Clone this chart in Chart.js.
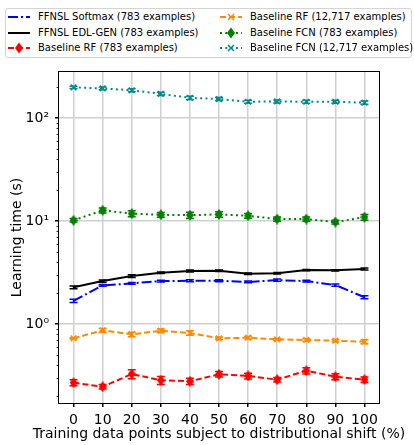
<!DOCTYPE html>
<html><head><meta charset="utf-8">
<script src="https://cdn.jsdelivr.net/npm/chart.js@4.4.1/dist/chart.umd.min.js"></script>
<style>
html,body{margin:0;padding:0;background:#fff;}
#wrap{position:relative;width:414px;height:445px;overflow:hidden;}
#c{position:absolute;left:0;top:0;}
#legend{position:absolute;left:5px;top:8px;width:405px;height:48px;border:1px solid #d4d4d4;border-radius:3px;background:#fff;font-family:'DejaVu Sans',sans-serif;font-size:10px;color:#000;}
.item{position:absolute;height:14px;line-height:14px;white-space:nowrap;}
.item svg{position:absolute;left:0;top:0;}
.item span{position:absolute;left:30px;top:0;}
#xtitle{position:absolute;left:12px;width:414px;top:425px;height:17px;line-height:17px;text-align:center;white-space:nowrap;font-family:'DejaVu Sans',sans-serif;font-size:14px;color:#000;}
</style></head>
<body>
<div id="wrap"><canvas id="c" width="414" height="445" style="width:414px;height:445px"></canvas><div id="legend"></div><div id="xtitle"></div></div>
<script>
// ---- data ----
const shiftPct = [0,10,20,30,40,50,60,70,80,90,100];
const xTicks = [0,10,20,30,40,50,60,70,80,90,100];
const yMajorTicks = [1,10,100];
const yMinorTicks = [0.2,0.3,0.4,0.5,0.6,0.7,0.8,0.9,2,3,4,5,6,7,8,9,20,30,40,50,60,70,80,90,200];

const softmax783   = [1.68,2.37,2.48,2.61,2.63,2.63,2.56,2.67,2.61,2.39,1.82];
const softmaxErr   = [0.06,0.05,0.05,0.05,0.06,0.06,0.05,0.07,0.05,0.06,0.06];
const edlGen783    = [2.27,2.61,2.92,3.15,3.27,3.29,3.08,3.11,3.34,3.32,3.42];
const edlGenErr    = [0.07,0.07,0.09,0.05,0.07,0.06,0.05,0.05,0.05,0.05,0.08];
const rf783        = [0.269,0.246,0.327,0.284,0.278,0.325,0.313,0.288,0.352,0.308,0.288];
const rf783Err     = [0.018,0.012,0.033,0.025,0.02,0.02,0.02,0.015,0.025,0.02,0.018];
const rf12717      = [0.726,0.869,0.794,0.861,0.818,0.726,0.736,0.71,0.70,0.689,0.673];
const rf12717Err   = [0.01,0.035,0.04,0.035,0.04,0.02,0.02,0.015,0.02,0.02,0.03];
const fcn783       = [10.16,12.7,11.8,11.5,11.4,11.6,11.25,10.45,10.45,9.78,10.9];
const fcn783Err    = [0.4,0.7,0.8,0.6,0.8,0.7,0.6,0.5,0.5,0.4,0.7];
const fcn12717     = [198.6,194,186,172,157,153,144,145,144,144,141];
const fcn12717Err  = [5,6,6,6,6,5,5,5,5,5,5];

const seriesNames = [
  'FFNSL Softmax (783 examples)',
  'FFNSL EDL-GEN (783 examples)',
  'Baseline RF (783 examples)',
  'Baseline RF (12,717 examples)',
  'Baseline FCN (783 examples)',
  'Baseline FCN (12,717 examples)'
];
const xTitle = 'Training data points subject to distributional shift (%)';
const yTitle = 'Learning time (s)';

// ---- styles ----
function thinDiamond(color){
  const c=document.createElement('canvas'); c.width=8; c.height=11;
  const g=c.getContext('2d'); g.fillStyle=color;
  g.beginPath(); g.moveTo(4,0); g.lineTo(8,5.5); g.lineTo(4,11); g.lineTo(0,5.5); g.closePath(); g.fill();
  return c;
}
const FONT='DejaVu Sans';
const pts = (arr)=>arr.map((v,i)=>({x:shiftPct[i],y:v}));
const styles = [
  {color:'#0000ff', dash:[10,3,2,3], point:false},
  {color:'#000000', dash:[], point:false},
  {color:'#ff0000', dash:[6,3], point:'diamond'},
  {color:'#ff8c00', dash:[6,3], point:'x'},
  {color:'#008000', dash:[2,3.3], point:'diamond'},
  {color:'#008b8b', dash:[2,3.3], point:'x'}
];
const values=[softmax783,edlGen783,rf783,rf12717,fcn783,fcn12717];
const errs=[softmaxErr,edlGenErr,rf783Err,rf12717Err,fcn783Err,fcn12717Err];

const datasets = values.map((v,k)=>{
  const s=styles[k];
  const d={label:seriesNames[k], data:pts(v), err:errs[k], borderColor:s.color, backgroundColor:s.color,
    borderWidth:2, borderDash:s.dash, tension:0, fill:false, order:k};
  if(!s.point){ d.pointRadius=0; }
  else if(s.point==='diamond'){ d.pointStyle=thinDiamond(s.color); d.pointRadius=5; }
  else { d.pointStyle='crossRot'; d.pointRadius=4; d.pointBorderWidth=1.5; }
  return d;
});

const errPlugin={id:'err',
  beforeDatasetDraw(chart,args){
    const ds=chart.data.datasets[args.index]; if(!ds.err) return;
    const ys=chart.scales.y, ctx=chart.ctx;
    ctx.save(); ctx.strokeStyle=ds.borderColor; ctx.lineWidth=1.5; ctx.setLineDash([]);
    args.meta.data.forEach((p,i)=>{
      const v=ds.data[i].y, e=ds.err[i];
      const y1=ys.getPixelForValue(v-e), y2=ys.getPixelForValue(v+e), x=p.x;
      ctx.beginPath();
      ctx.moveTo(x,y1); ctx.lineTo(x,y2);
      ctx.moveTo(x-4,y1); ctx.lineTo(x+4,y1);
      ctx.moveTo(x-4,y2); ctx.lineTo(x+4,y2);
      ctx.stroke();
    });
    ctx.restore();
  }};
const framePlugin={id:'frame',
  afterDraw(chart){
    const {ctx,chartArea:a,scales:{y}}=chart;
    ctx.save(); ctx.strokeStyle='#000'; ctx.lineWidth=1; ctx.setLineDash([]);
    ctx.strokeRect(Math.round(a.left)-0.5,Math.round(a.top)-0.5,Math.round(a.right-a.left)+1,Math.round(a.bottom-a.top)+1);
    ctx.lineWidth=0.8;
    yMinorTicks.forEach(v=>{const py=Math.round(y.getPixelForValue(v))+0.5;
      ctx.beginPath(); ctx.moveTo(a.left-2.5,py); ctx.lineTo(a.left,py); ctx.stroke();});
    ctx.restore();
  }};

const supers={0:'\u2070',1:'\u00b9',2:'\u00b2'};

new Chart(document.getElementById('c'),{
  type:'line',
  data:{datasets},
  plugins:[errPlugin,framePlugin],
  options:{
    responsive:false, animation:false,
    layout:{padding:{left:0,right:35,top:72,bottom:0}},
    plugins:{legend:{display:false},tooltip:{enabled:false}},
    scales:{
      x:{type:'linear',min:-5,max:105,
        afterBuildTicks(s){s.ticks=xTicks.map(v=>({value:v}));},
        afterFit(s){s.height=42;},
        ticks:{autoSkip:false,maxRotation:0,color:'#000',font:{family:FONT,size:14},padding:5},
        grid:{color:'#d0d0d0',lineWidth:1.5,tickColor:'#000',tickLength:4},
        border:{display:false},
        title:{display:false}
      },
      y:{type:'logarithmic',min:0.171,max:280,
        afterBuildTicks(s){s.ticks=yMajorTicks.map(v=>({value:v}));},
        afterFit(s){s.width=59;},
        ticks:{autoSkip:false,color:'#000',font:{family:FONT,size:14},padding:6,
          callback:(v)=>{const e=Math.round(Math.log10(v)); return '10'+supers[e];}},
        grid:{color:'#d0d0d0',lineWidth:1.5,tickColor:'#000',tickLength:4},
        border:{display:false},
        title:{display:true,text:yTitle,color:'#000',font:{family:FONT,size:14},padding:{top:8.5,bottom:0}}
      }
    }
  }
});

document.getElementById('xtitle').textContent=xTitle;

// ---- legend (HTML) ----
const legend=document.getElementById('legend');
const layout=[[2,1],[2,17],[2,32],[214,1],[214,17],[214,32]];
function iconSVG(k){
  const s=styles[k], c=s.color;
  const dash=s.dash.length?`stroke-dasharray="${s.dash.join(',')}"`:'';
  let m='';
  if(s.point==='diamond') m=`<polygon points="11,1.5 15,7 11,12.5 7,7" fill="${c}"/>`+
     `<line x1="11" y1="3" x2="11" y2="11" stroke="${c}" stroke-width="1.5"/>`;
  if(s.point==='x') m=`<path d="M8,4 L14,10 M14,4 L8,10" stroke="${c}" stroke-width="1.5"/>`;
  return `<svg width="24" height="14"><line x1="0" y1="7" x2="22" y2="7" stroke="${c}" stroke-width="2" ${dash}/>${m}</svg>`;
}
seriesNames.forEach((n,k)=>{
  const d=document.createElement('div'); d.className='item';
  d.style.left=layout[k][0]+'px'; d.style.top=layout[k][1]+'px';
  d.innerHTML=iconSVG(k)+'<span>'+n+'</span>';
  legend.appendChild(d);
});
</script>
</body></html>
